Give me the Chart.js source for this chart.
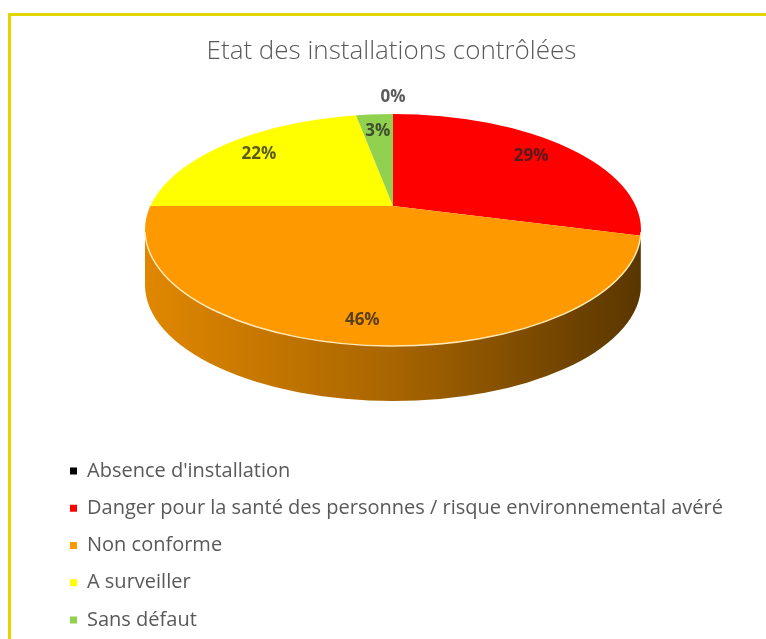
<!DOCTYPE html>
<html><head><meta charset="utf-8">
<script src="https://cdn.jsdelivr.net/npm/chart.js@4/dist/chart.umd.min.js"></script>
<style>
html,body{margin:0;padding:0;background:#fff;overflow:hidden;width:766px;height:639px;}
#frame{position:absolute;left:8px;top:13px;width:800px;height:700px;border-left:3px solid #e2d500;border-top:3px solid #e2d500;box-sizing:border-box;}
#c{position:absolute;left:0;top:0;}
</style></head><body>
<div id="frame"></div>
<canvas id="c" width="766" height="650"></canvas>
<script>
// ---- data ----
const chartTitle = 'Etat des installations contrôlées';
const categories = ["Absence d'installation",
  'Danger pour la santé des personnes / risque environnemental avéré',
  'Non conforme', 'A surveiller', 'Sans défaut'];
const shares = [0, 29, 46, 22, 3];
const sliceColors = ['#000000', '#ff0000', '#ff9900', '#ffff00', '#92d050'];

// ---- style / layout ----
const GEOM = {cx: 393, cy: 230, rx: 248, ry: 116, apexY: 206, depth: 55, cover: 1.3};
const LABEL_FONT = "bold 17px 'Open Sans'";
const LABEL_COLOR = 'rgba(35,35,35,0.75)';

function hexToRgb(h){const n=parseInt(h.slice(1),16);return [(n>>16)&255,(n>>8)&255,n&255];}
function shade(h,f){const [r,g,b]=hexToRgb(h);return `rgb(${Math.round(r*f)},${Math.round(g*f)},${Math.round(b*f)})`;}
function rayT(theta){
  const h=(GEOM.cy-GEOM.apexY)/GEOM.ry, s=Math.sin(theta);
  return h*s+Math.sqrt(h*h*s*s-h*h+1);
}
function edgeParam(theta){
  const h=(GEOM.cy-GEOM.apexY)/GEOM.ry, t=rayT(theta);
  return Math.atan2(-h+t*Math.sin(theta), t*Math.cos(theta));
}

const pie3d = {
  id: 'pie3d',
  afterLayout(chart){
    // let the vertical legend use the full width for its long labels
    const lg = chart.legend;
    if (lg) { lg.right = chart.width; lg.width = lg.right - lg.left; }
  },
  beforeDatasetsDraw(chart){
    const ctx=chart.ctx, meta=chart.getDatasetMeta(0), G=GEOM;
    meta.data.forEach((arc,i)=>{
      if (arc.endAngle - arc.startAngle <= 0) return;
      let pa=edgeParam(arc.startAngle), pb=edgeParam(arc.endAngle);
      while (pb<pa) pb+=2*Math.PI;
      for (const k of [-2*Math.PI,0,2*Math.PI]){
        const lo=Math.max(pa,k), hi=Math.min(pb,Math.PI+k);
        if (hi<=lo) continue;
        const g=ctx.createLinearGradient(G.cx-G.rx,0,G.cx+G.rx,0);
        const col=sliceColors[i];
        g.addColorStop(0,shade(col,0.88));
        g.addColorStop(0.5,shade(col,0.66));
        g.addColorStop(1,shade(col,0.35));
        ctx.save();
        ctx.beginPath();
        ctx.ellipse(G.cx,G.cy,G.rx,G.ry,0,lo-k,hi-k,false);
        ctx.ellipse(G.cx,G.cy+G.depth,G.rx,G.ry,0,hi-k,lo-k,true);
        ctx.closePath();
        ctx.fillStyle=g; ctx.fill();
        ctx.restore();
      }
    });
    const a0=meta.data[0], R=a0.outerRadius;
    ctx.save();
    ctx.beginPath(); ctx.ellipse(G.cx,G.cy,G.rx,G.ry,0,0,2*Math.PI); ctx.clip();
    ctx.translate(G.cx,G.apexY);
    ctx.scale(G.cover*G.rx/R, G.cover*G.ry/R);
    ctx.translate(-a0.x,-a0.y);
  },
  afterDatasetsDraw(chart){
    const ctx=chart.ctx, meta=chart.getDatasetMeta(0), G=GEOM;
    ctx.restore();
    ctx.save();
    ctx.beginPath(); ctx.ellipse(G.cx,G.cy,G.rx,G.ry,0,0.02,Math.PI-0.02);
    ctx.strokeStyle='rgba(255,236,190,0.95)'; ctx.lineWidth=1.5; ctx.stroke();
    ctx.restore();
    const total=shares.reduce((a,b)=>a+b,0);
    ctx.save();
    ctx.font=LABEL_FONT; ctx.fillStyle=LABEL_COLOR;
    ctx.textAlign='center'; ctx.textBaseline='middle';
    meta.data.forEach((arc,i)=>{
      const mid=(arc.startAngle+arc.endAngle)/2;
      const pct=shares[i]/total*100;
      const f = pct<1 ? 1.18 : 0.82;
      const t=rayT(mid)*f;
      const x=G.cx+G.rx*t*Math.cos(mid), y=G.apexY+G.ry*t*Math.sin(mid);
      ctx.fillText(Math.round(pct)+'%', x, y);
    });
    ctx.restore();
  }
};

new Chart(document.getElementById('c'), {
  type: 'pie',
  data: {
    labels: categories,
    datasets: [{data: shares, backgroundColor: sliceColors, borderWidth: 0, clip: false}]
  },
  options: {
    responsive: false,
    animation: false,
    layout: {padding: {left: 52.75, right: 35.75, top: 20, bottom: 2.75}},
    plugins: {
      title: {display: true, text: chartTitle, color: '#595959',
        font: {family: "'Open Sans'", size: 26, weight: '300'}, padding: {top: 16, bottom: 10}},
      legend: {position: 'left', align: 'end', fullSize: true,
        labels: {boxWidth: 7, boxHeight: 7, padding: 17.25, color: '#595959',
          font: {family: "'Open Sans'", size: 20}}},
      tooltip: {enabled: false}
    }
  },
  plugins: [pie3d]
});
</script>
</body></html>
